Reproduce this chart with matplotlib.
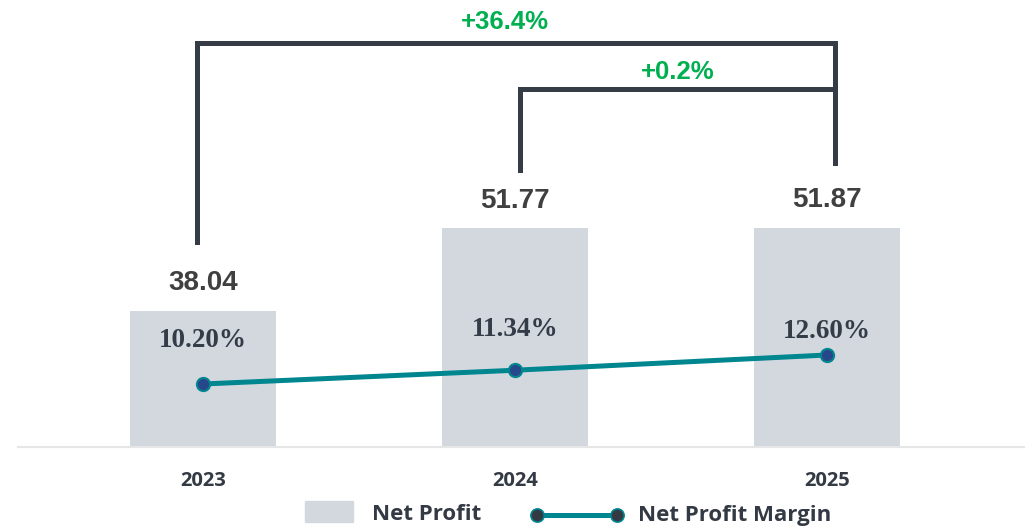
import matplotlib
matplotlib.use("Agg")
import matplotlib.pyplot as plt
import matplotlib.transforms as mtransforms
from matplotlib.patches import Rectangle
from matplotlib.lines import Line2D
import numpy as np

# data
years = ["2023", "2024", "2025"]
net_profit = [38.04, 51.77, 51.87]
margin = [10.20, 11.34, 12.60]
growth_labels = ["+36.4%", "+0.2%"]

BAR = "#d3d8df"
TEAL = "#00868f"
NAVY = "#26488a"
DARK = "#353c45"
GREEN = "#00b050"

W, H = 1025, 527
fig = plt.figure(figsize=(W / 100, H / 100), dpi=100)
ax = fig.add_axes([18 / W, 80 / H, 1 - 18 / W, 447 / H])

x = np.arange(len(years))
ax.bar(x, net_profit, width=0.47, color=BAR, zorder=1)
ax.set_xlim(-0.593, 2.635)
ax.set_ylim(15.44, 89.69)

for spine in ["top", "left", "right"]:
    ax.spines[spine].set_visible(False)
ax.spines["bottom"].set_color("#e6e6e6")
ax.spines["bottom"].set_linewidth(1.5)
ax.set_yticks([])
ax.set_xticks(x)
ax.set_xticklabels(years, fontfamily="Open Sans", fontweight="bold",
                   fontsize=14.5, color="#333a44")
ax.tick_params(axis="x", length=0, pad=17)

# value labels above the bars
for xi, v in zip(x, net_profit):
    ax.annotate(f"{v:.2f}", (xi, v), xytext=(0, 20), textcoords="offset points",
                ha="center", va="center", fontfamily="Liberation Sans",
                fontweight="bold", fontsize=20, color="#404040")

# margin line on second axis
ax2 = ax.twinx()
ax2.set_ylim(4.985, 41.99)
ax2.axis("off")
ax2.plot(x, margin, color=TEAL, lw=3.6, marker="o", markersize=9.5,
         markerfacecolor=NAVY, markeredgecolor=TEAL, markeredgewidth=1.5, zorder=3)
label_off = [31, 29.5, 17]
for xi, m, off in zip(x, margin, label_off):
    ax2.annotate(f"{m:.2f}%", (xi, m), xytext=(0, off), textcoords="offset points",
                 ha="center", va="center", fontfamily="Liberation Serif",
                 fontweight="bold", fontsize=19.5, color="#333c47")

# growth brackets (x in data, y in axes fraction)
tr = mtransforms.blended_transform_factory(ax.transData, ax.transAxes)
def fy(px):
    return (447 - px) / 447

xl, xm, xr = -0.02, 1.016, 2.026
ax.plot([xl, xl, xr, xr], [fy(242), fy(43), fy(43), fy(163)], transform=tr,
        color=DARK, lw=3.6, solid_joinstyle="miter", clip_on=False)
ax.plot([xm, xm, xr], [fy(170), fy(89), fy(89)], transform=tr,
        color=DARK, lw=3.6, solid_joinstyle="miter", clip_on=False)
ax.text((xl + xr) / 2 - 0.035, fy(22), growth_labels[0], transform=tr, ha="center",
        va="center", fontfamily="Liberation Sans", fontweight="bold",
        fontsize=18.5, color=GREEN)
ax.text((xm + xr) / 2, fy(72), growth_labels[1], transform=tr, ha="center",
        va="center", fontfamily="Liberation Sans", fontweight="bold",
        fontsize=18.5, color=GREEN)

# legend, drawn by hand
def f(px, py):
    return px / W, 1 - py / H

fig.add_artist(Rectangle(f(305, 522), 48 / W, 21 / H, color=BAR,
                         transform=fig.transFigure))
fig.text(*f(372, 515), "Net Profit", ha="left", va="center", fontfamily="Open Sans",
         fontweight="bold", fontsize=16, color="#333a44")
lx0, ly = f(537, 515)
lx1, _ = f(617, 515)
fig.add_artist(Line2D([lx0, lx1], [ly, ly], color=TEAL, lw=3.6, marker="o",
                      markersize=9.5, markerfacecolor="#333a44",
                      markeredgecolor=TEAL, markeredgewidth=1.2,
                      transform=fig.transFigure))
fig.text(*f(638, 515), "Net Profit Margin", ha="left", va="center",
         fontfamily="Open Sans", fontweight="bold", fontsize=16, color="#333a44")

fig.savefig("out.png", dpi=100)
